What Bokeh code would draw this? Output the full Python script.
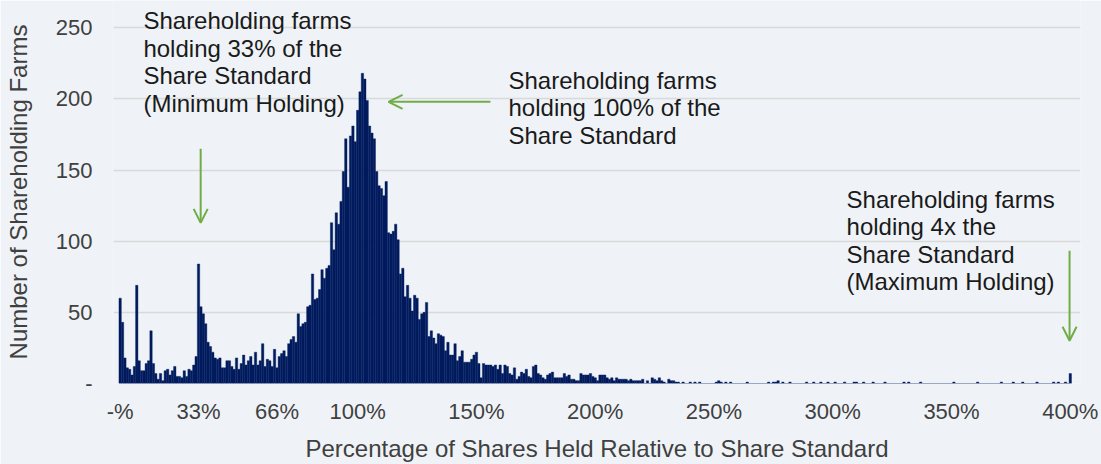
from bokeh.plotting import figure
from bokeh.models import Range1d, FixedTicker, Label, Arrow, OpenHead, ColumnDataSource
from bokeh.embed import file_html
from bokeh.resources import INLINE

# Percentage of share standard held (bin, %)
share_pct = list(range(0, 401))

# Number of shareholding farms in each 1% bin
farm_counts = [
    60, 43, 18, 11, 10, 6, 12, 69, 16, 9, 9, 14, 16, 37, 14, 7, 3, 7, 2, 9,
    10, 6, 9, 12, 5, 5, 4, 9, 5, 10, 9, 13, 19, 84, 54, 49, 42, 29, 26, 22,
    18, 17, 18, 11, 11, 16, 16, 12, 10, 18, 10, 14, 20, 13, 16, 19, 13, 22, 13, 16,
    28, 12, 17, 16, 12, 24, 11, 19, 21, 23, 19, 28, 31, 33, 29, 49, 40, 42, 43, 54,
    55, 77, 59, 60, 66, 80, 74, 81, 83, 113, 94, 120, 112, 128, 149, 172, 138, 174, 181, 170,
    192, 205, 218, 214, 199, 181, 176, 172, 149, 139, 137, 132, 142, 106, 105, 107, 112, 101, 77, 81,
    61, 69, 60, 51, 62, 60, 45, 49, 50, 57, 33, 37, 32, 28, 35, 34, 33, 23, 29, 20,
    20, 28, 16, 19, 23, 15, 15, 15, 17, 20, 22, 14, 4, 14, 13, 13, 13, 12, 13, 10,
    13, 7, 13, 12, 7, 6, 11, 3, 5, 8, 7, 10, 5, 4, 12, 13, 7, 6, 4, 3,
    6, 7, 8, 4, 4, 4, 4, 7, 5, 6, 3, 3, 2, 2, 7, 6, 6, 6, 7, 5,
    4, 2, 6, 6, 6, 4, 3, 4, 2, 4, 3, 3, 3, 3, 2, 3, 2, 2, 2, 2,
    3, 0, 2, 0, 4, 3, 2, 4, 2, 1, 0, 3, 2, 2, 1, 1, 0, 1, 0, 0,
    1, 0, 1, 0, 1, 0, 0, 0, 0, 0, 0, 1, 2, 1, 0, 1, 0, 1, 0, 0,
    0, 0, 0, 0, 1, 0, 0, 0, 0, 0, 0, 0, 0, 1, 0, 1, 1, 2, 0, 1,
    0, 0, 1, 0, 0, 0, 0, 0, 0, 1, 0, 0, 1, 0, 0, 1, 0, 0, 1, 0,
    0, 1, 0, 0, 0, 1, 0, 0, 0, 1, 1, 0, 0, 1, 0, 0, 0, 1, 0, 0,
    0, 0, 1, 0, 0, 0, 0, 0, 0, 0, 1, 0, 1, 0, 0, 0, 0, 1, 0, 0,
    0, 0, 0, 0, 0, 0, 0, 0, 0, 0, 0, 1, 0, 0, 0, 0, 0, 0, 0, 0,
    0, 1, 0, 0, 0, 0, 0, 0, 0, 0, 0, 1, 0, 0, 0, 0, 1, 0, 0, 0,
    1, 0, 0, 0, 0, 0, 1, 0, 0, 0, 0, 0, 0, 1, 0, 1, 0, 0, 1, 0,
    7,
]

x_tick_values = [0, 33, 66, 100, 150, 200, 250, 300, 350, 400]
x_tick_labels = ["-%", "33%", "66%", "100%", "150%", "200%", "250%", "300%", "350%", "400%"]
y_tick_values = [0, 50, 100, 150, 200, 250]
y_tick_labels = ["-", "50", "100", "150", "200", "250"]

annotation_min = "Shareholding farms\nholding 33% of the\nShare Standard\n(Minimum Holding)"
annotation_std = "Shareholding farms\nholding 100% of the\nShare Standard"
annotation_max = "Shareholding farms\nholding 4x the\nShare Standard\n(Maximum Holding)"

NAVY = "#001B5E"
GREEN = "#70AD47"
BG = "#EFF3F7"
GRID = "#D9D9D9"
FONT = "Liberation Sans"

source = ColumnDataSource(data=dict(x=share_pct, top=farm_counts))

p = figure(
    width=1101, height=464,
    x_range=Range1d(-2.8, 404.3), y_range=Range1d(0, 269.2),
    output_backend="svg", toolbar_location=None,
    min_border_left=113, min_border_right=21, min_border_top=0, min_border_bottom=81,
    background_fill_color=BG, border_fill_color=BG,
)
p.outline_line_color = None

p.vbar(x="x", top="top", bottom=0, width=1.0, source=source,
       fill_color=NAVY, line_color=NAVY, line_width=0.4)

p.xgrid.visible = False
p.ygrid.ticker = FixedTicker(ticks=y_tick_values)
p.ygrid.grid_line_color = GRID
p.ygrid.grid_line_width = 1.6
p.ygrid.level = "underlay"

for ax in (p.xaxis, p.yaxis):
    ax.axis_line_color = None
    ax.major_tick_line_color = None
    ax.minor_tick_line_color = None
    ax.major_tick_out = 0
    ax.major_tick_in = 0
    ax.major_label_text_font = FONT
    ax.major_label_text_font_size = "22px"
    ax.major_label_text_color = "#404040"
    ax.axis_label_text_font = FONT
    ax.axis_label_text_font_size = "24px"
    ax.axis_label_text_font_style = "normal"
    ax.axis_label_text_color = "#404040"

p.xaxis.ticker = FixedTicker(ticks=x_tick_values)
p.xaxis.major_label_overrides = dict(zip(x_tick_values, x_tick_labels))
p.xaxis.axis_label = "Percentage of Shares Held Relative to Share Standard"
p.xaxis.major_label_standoff = 15
p.xaxis.axis_label_standoff = 8

p.yaxis.ticker = FixedTicker(ticks=y_tick_values)
p.yaxis.major_label_overrides = dict(zip(y_tick_values, y_tick_labels))
p.yaxis.axis_label = "Number of Shareholding Farms"
p.yaxis.major_label_standoff = 21
p.yaxis.axis_label_standoff = 21

def add_note(x, y, txt):
    p.add_layout(Label(x=x, y=y, text=txt, text_align="left", text_baseline="top",
                       text_font=FONT, text_font_size="24px", text_color="#1A1A1A",
                       text_line_height=1.02))

add_note(9.8, 264.5, annotation_min)
add_note(163.5, 222.6, annotation_std)
add_note(305.8, 139.0, annotation_max)

def add_arrow(x0, y0, x1, y1):
    p.add_layout(Arrow(end=OpenHead(size=14, line_color=GREEN, line_width=2),
                       x_start=x0, y_start=y0, x_end=x1, y_end=y1,
                       line_color=GREEN, line_width=2))

add_arrow(33.9, 165.0, 33.9, 112.9)
add_arrow(155.9, 198.0, 113.0, 198.0)
add_arrow(399.7, 93.3, 399.7, 30.0)

open("out.html", "w").write(file_html(p, INLINE))
